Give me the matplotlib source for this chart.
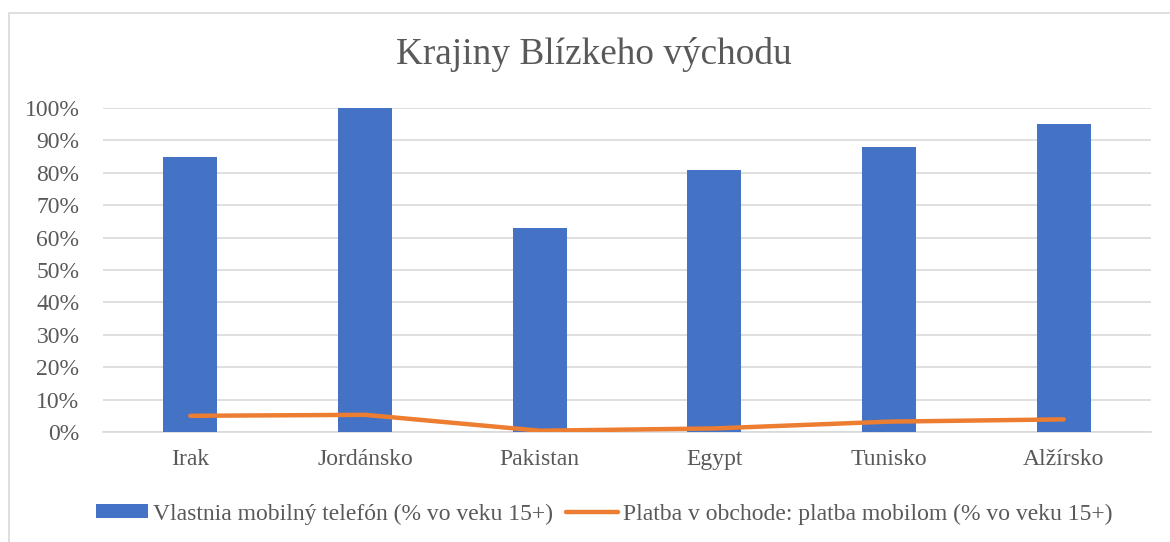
import numpy as np
import matplotlib
matplotlib.use("Agg")
import matplotlib.pyplot as plt
from matplotlib.patches import Rectangle, Patch
from matplotlib.lines import Line2D
from matplotlib.ticker import PercentFormatter

# data
countries = ["Irak", "Jordánsko", "Pakistan", "Egypt", "Tunisko", "Alžírsko"]
own_phone = [85, 100, 63, 81, 88, 95]          # Vlastnia mobilný telefón (%)
pay_mobile = [5.0, 5.3, 0.4, 1.1, 3.2, 3.9]    # Platba mobilom (%)

title = "Krajiny Blízkeho východu"
label_bar = "Vlastnia mobilný telefón (% vo veku 15+)"
label_line = "Platba v obchode: platba mobilom (% vo veku 15+)"

BLUE = "#4472C4"
ORANGE = "#ED7D31"
GREY_TXT = "#595959"
GRID = "#D9D9D9"

plt.rcParams['font.family'] = ['Liberation Serif', 'DejaVu Serif']

fig = plt.figure(figsize=(11.7, 5.42), dpi=100)
W, H = 1170, 542

# chart border (only left and top are visible in the crop)
fig.patches.append(Rectangle((8.5 / W, -0.1), 1.2, 1 - 12.5 / H + 0.1,
                             transform=fig.transFigure, fill=False,
                             edgecolor="#D9D9D9", linewidth=1.2))

ax = fig.add_axes([103 / W, 1 - 432 / H, (1151 - 103) / W, (432 - 108) / H])

x = np.arange(len(countries))
ax.bar(x, own_phone, width=0.31, color=BLUE, zorder=3)
ax.plot(x, pay_mobile, color=ORANGE, linewidth=3.2, solid_capstyle="round",
        solid_joinstyle="round", zorder=4)

ax.set_xlim(-0.5, len(countries) - 0.5)
ax.set_ylim(0, 100)
ax.set_yticks(np.arange(0, 101, 10))
ax.yaxis.set_major_formatter(PercentFormatter(decimals=0))
ax.set_xticks(x)
ax.set_xticklabels(countries)

ax.grid(axis="y", color=GRID, linewidth=1.2, zorder=0)
ax.set_axisbelow(True)
for s in ["top", "right", "left"]:
    ax.spines[s].set_visible(False)
ax.spines["bottom"].set_color(GRID)
ax.spines["bottom"].set_linewidth(1.2)

ax.tick_params(axis="both", length=0, labelsize=17, labelcolor=GREY_TXT)
ax.tick_params(axis="y", pad=17)
ax.tick_params(axis="x", pad=12)

fig.text(594 / W, 1 - 54 / H, title, ha="center", va="center",
         fontsize=26.8, color=GREY_TXT)

handles = [Patch(facecolor=BLUE, edgecolor="none"),
           Line2D([0], [0], color=ORANGE, linewidth=3.2, solid_capstyle="round")]
fig.legend(handles, [label_bar, label_line], loc="center",
           bbox_to_anchor=(604 / W, 1 - 514 / H), ncol=2, frameon=False,
           fontsize=17, labelcolor=GREY_TXT, handlelength=2.2,
           handleheight=0.5, handletextpad=0.22, columnspacing=0.55)

fig.savefig("out.png", dpi=100)
